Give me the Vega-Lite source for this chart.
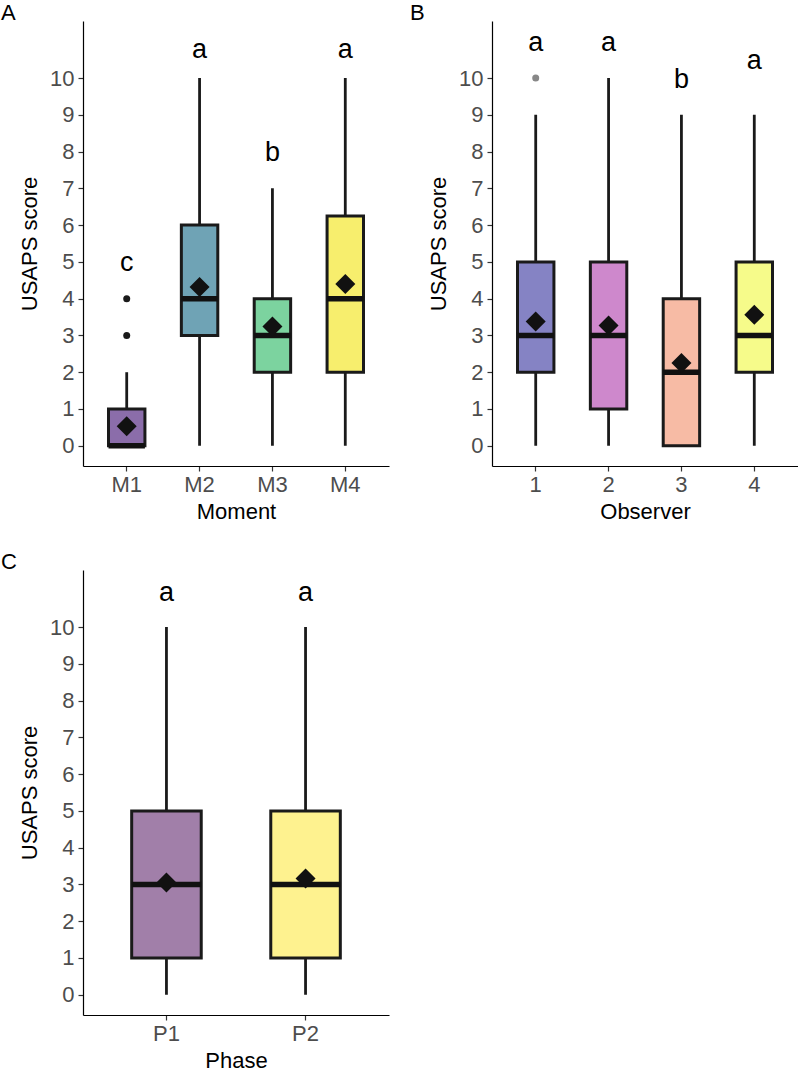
{
  "$schema": "https://vega.github.io/schema/vega-lite/v6.json",
  "padding": {"left": 1, "top": 2, "right": 0, "bottom": 0},
  "background": "white",
  "config": {
    "view": {"stroke": null},
    "font": "Liberation Sans",
    "axis": {
      "grid": false,
      "domainColor": "#000000",
      "domainWidth": 1.2,
      "tickColor": "#333333",
      "tickWidth": 1.2,
      "tickSize": 5,
      "labelColor": "#4d4d4d",
      "labelFont": "Liberation Sans",
      "labelFontSize": 22,
      "titleFont": "Liberation Sans",
      "titleFontSize": 22,
      "titleFontWeight": "normal",
      "titleColor": "#000000"
    },
    "axisX": {"labelPadding": 3, "titlePadding": 6, "labelAngle": 0},
    "axisY": {"labelPadding": 4, "titlePadding": 8}
  },
  "datasets": {
    "moment": [
      {"group": "M1", "lower": 0, "q1": 0, "median": 0, "q3": 1, "upper": 2, "mean": 0.53, "letter": "c", "letter_y": 4.75},
      {"group": "M2", "lower": 0, "q1": 3, "median": 4, "q3": 6, "upper": 10, "mean": 4.32, "letter": "a", "letter_y": 10.54},
      {"group": "M3", "lower": 0, "q1": 2, "median": 3, "q3": 4, "upper": 7, "mean": 3.24, "letter": "b", "letter_y": 7.74},
      {"group": "M4", "lower": 0, "q1": 2, "median": 4, "q3": 6.25, "upper": 10, "mean": 4.4, "letter": "a", "letter_y": 10.54}
    ],
    "moment_outliers": [
      {"group": "M1", "value": 3},
      {"group": "M1", "value": 4}
    ],
    "observer": [
      {"group": "1", "lower": 0, "q1": 2, "median": 3, "q3": 5, "upper": 9, "mean": 3.38, "letter": "a", "letter_y": 10.73},
      {"group": "2", "lower": 0, "q1": 1, "median": 3, "q3": 5, "upper": 10, "mean": 3.27, "letter": "a", "letter_y": 10.73},
      {"group": "3", "lower": 0, "q1": 0, "median": 2, "q3": 4, "upper": 9, "mean": 2.25, "letter": "b", "letter_y": 9.72},
      {"group": "4", "lower": 0, "q1": 2, "median": 3, "q3": 5, "upper": 9, "mean": 3.56, "letter": "a", "letter_y": 10.24}
    ],
    "observer_outliers": [
      {"group": "1", "value": 10}
    ],
    "phase": [
      {"group": "P1", "lower": 0, "q1": 1, "median": 3, "q3": 5, "upper": 10, "mean": 3.05, "letter": "a", "letter_y": 10.72},
      {"group": "P2", "lower": 0, "q1": 1, "median": 3, "q3": 5, "upper": 10, "mean": 3.16, "letter": "a", "letter_y": 10.72}
    ]
  },
  "resolve": {"scale": {"fill": "independent", "x": "independent", "y": "independent"}},
  "columns": 2,
  "bounds": "flush",
  "spacing": {"row": 104, "column": 103},
  "concat": [
    {
      "width": 306,
      "height": 445,
      "title": {"text": "A", "dx": -82, "anchor": "start", "frame": "group", "baseline": "alphabetic", "offset": -21, "fontSize": 22, "fontWeight": "normal", "font": "Liberation Sans", "color": "#000000"},
      "data": {"name": "moment"},
      "encoding": {
        "x": {
          "field": "group",
          "type": "nominal",
          "title": "Moment",
          "scale": {"paddingInner": 0.5, "paddingOuter": 0.35}
        }
      },
      "layer": [
        {
          "mark": {"type": "rule", "color": "#1a1a1a", "strokeWidth": 2.8},
          "encoding": {
            "y": {"field": "lower", "type": "quantitative", "title": "USAPS score", "scale": {"domain": [-0.55, 11.55], "nice": false, "zero": false}, "axis": {"values": [0, 1, 2, 3, 4, 5, 6, 7, 8, 9, 10], "format": "d"}},
            "y2": {"field": "upper"}
          }
        },
        {
          "mark": {"type": "bar", "stroke": "#1a1a1a", "strokeWidth": 3},
          "encoding": {
            "y": {"field": "q1", "type": "quantitative", "title": "USAPS score", "scale": {"domain": [-0.55, 11.55], "nice": false, "zero": false}},
            "y2": {"field": "q3"},
            "fill": {"field": "group", "type": "nominal", "legend": null, "scale": {"domain": ["M1", "M2", "M3", "M4"], "range": ["#8b6daa", "#6fa3b5", "#7cd39f", "#f7ee6d"]}}
          }
        },
        {
          "mark": {"type": "tick", "color": "#111111", "thickness": 5.5, "size": 36.4, "opacity": 1},
          "encoding": {
            "y": {"field": "median", "type": "quantitative", "title": "USAPS score", "scale": {"domain": [-0.55, 11.55], "nice": false, "zero": false}}
          }
        },
        {
          "data": {"name": "moment_outliers"},
          "mark": {"type": "point", "shape": "circle", "filled": true, "size": 49, "color": "#1a1a1a", "opacity": 1},
          "encoding": {
            "y": {"field": "value", "type": "quantitative", "title": "USAPS score", "scale": {"domain": [-0.55, 11.55], "nice": false, "zero": false}}
          }
        },
        {
          "mark": {"type": "point", "shape": "diamond", "filled": true, "size": 400, "color": "#111111", "opacity": 1},
          "encoding": {
            "y": {"field": "mean", "type": "quantitative", "title": "USAPS score", "scale": {"domain": [-0.55, 11.55], "nice": false, "zero": false}}
          }
        },
        {
          "mark": {"type": "text", "font": "Liberation Sans", "fontSize": 27, "color": "#000000", "baseline": "alphabetic", "align": "center"},
          "encoding": {
            "y": {"field": "letter_y", "type": "quantitative", "title": "USAPS score", "scale": {"domain": [-0.55, 11.55], "nice": false, "zero": false}},
            "text": {"field": "letter"}
          }
        }
      ]
    },
    {
      "width": 306,
      "height": 445,
      "title": {"text": "B", "dx": -82, "anchor": "start", "frame": "group", "baseline": "alphabetic", "offset": -21, "fontSize": 22, "fontWeight": "normal", "font": "Liberation Sans", "color": "#000000"},
      "data": {"name": "observer"},
      "encoding": {
        "x": {
          "field": "group",
          "type": "nominal",
          "title": "Observer",
          "scale": {"paddingInner": 0.5, "paddingOuter": 0.35}
        }
      },
      "layer": [
        {
          "mark": {"type": "rule", "color": "#1a1a1a", "strokeWidth": 2.8},
          "encoding": {
            "y": {"field": "lower", "type": "quantitative", "title": "USAPS score", "scale": {"domain": [-0.55, 11.55], "nice": false, "zero": false}, "axis": {"values": [0, 1, 2, 3, 4, 5, 6, 7, 8, 9, 10], "format": "d"}},
            "y2": {"field": "upper"}
          }
        },
        {
          "mark": {"type": "bar", "stroke": "#1a1a1a", "strokeWidth": 3},
          "encoding": {
            "y": {"field": "q1", "type": "quantitative", "title": "USAPS score", "scale": {"domain": [-0.55, 11.55], "nice": false, "zero": false}},
            "y2": {"field": "q3"},
            "fill": {"field": "group", "type": "nominal", "legend": null, "scale": {"domain": ["1", "2", "3", "4"], "range": ["#8583c4", "#ce88cc", "#f7bba5", "#f6fb8a"]}}
          }
        },
        {
          "mark": {"type": "tick", "color": "#111111", "thickness": 5.5, "size": 36.4, "opacity": 1},
          "encoding": {
            "y": {"field": "median", "type": "quantitative", "title": "USAPS score", "scale": {"domain": [-0.55, 11.55], "nice": false, "zero": false}}
          }
        },
        {
          "data": {"name": "observer_outliers"},
          "mark": {"type": "point", "shape": "circle", "filled": true, "size": 49, "color": "#888888", "opacity": 1},
          "encoding": {
            "y": {"field": "value", "type": "quantitative", "title": "USAPS score", "scale": {"domain": [-0.55, 11.55], "nice": false, "zero": false}}
          }
        },
        {
          "mark": {"type": "point", "shape": "diamond", "filled": true, "size": 400, "color": "#111111", "opacity": 1},
          "encoding": {
            "y": {"field": "mean", "type": "quantitative", "title": "USAPS score", "scale": {"domain": [-0.55, 11.55], "nice": false, "zero": false}}
          }
        },
        {
          "mark": {"type": "text", "font": "Liberation Sans", "fontSize": 27, "color": "#000000", "baseline": "alphabetic", "align": "center"},
          "encoding": {
            "y": {"field": "letter_y", "type": "quantitative", "title": "USAPS score", "scale": {"domain": [-0.55, 11.55], "nice": false, "zero": false}},
            "text": {"field": "letter"}
          }
        }
      ]
    },
    {
      "width": 306,
      "height": 445,
      "title": {"text": "C", "dx": -82, "anchor": "start", "frame": "group", "baseline": "alphabetic", "offset": -21, "fontSize": 22, "fontWeight": "normal", "font": "Liberation Sans", "color": "#000000"},
      "data": {"name": "phase"},
      "encoding": {
        "x": {
          "field": "group",
          "type": "nominal",
          "title": "Phase",
          "scale": {"paddingInner": 0.5, "paddingOuter": 0.35}
        }
      },
      "layer": [
        {
          "mark": {"type": "rule", "color": "#1a1a1a", "strokeWidth": 2.8},
          "encoding": {
            "y": {"field": "lower", "type": "quantitative", "title": "USAPS score", "scale": {"domain": [-0.55, 11.55], "nice": false, "zero": false}, "axis": {"values": [0, 1, 2, 3, 4, 5, 6, 7, 8, 9, 10], "format": "d"}},
            "y2": {"field": "upper"}
          }
        },
        {
          "mark": {"type": "bar", "stroke": "#1a1a1a", "strokeWidth": 3},
          "encoding": {
            "y": {"field": "q1", "type": "quantitative", "title": "USAPS score", "scale": {"domain": [-0.55, 11.55], "nice": false, "zero": false}},
            "y2": {"field": "q3"},
            "fill": {"field": "group", "type": "nominal", "legend": null, "scale": {"domain": ["P1", "P2"], "range": ["#a17fa9", "#fef28f"]}}
          }
        },
        {
          "mark": {"type": "tick", "color": "#111111", "thickness": 5.5, "size": 69.5, "opacity": 1},
          "encoding": {
            "y": {"field": "median", "type": "quantitative", "title": "USAPS score", "scale": {"domain": [-0.55, 11.55], "nice": false, "zero": false}}
          }
        },
        {
          "mark": {"type": "point", "shape": "diamond", "filled": true, "size": 400, "color": "#111111", "opacity": 1},
          "encoding": {
            "y": {"field": "mean", "type": "quantitative", "title": "USAPS score", "scale": {"domain": [-0.55, 11.55], "nice": false, "zero": false}}
          }
        },
        {
          "mark": {"type": "text", "font": "Liberation Sans", "fontSize": 27, "color": "#000000", "baseline": "alphabetic", "align": "center"},
          "encoding": {
            "y": {"field": "letter_y", "type": "quantitative", "title": "USAPS score", "scale": {"domain": [-0.55, 11.55], "nice": false, "zero": false}},
            "text": {"field": "letter"}
          }
        }
      ]
    }
  ]
}
